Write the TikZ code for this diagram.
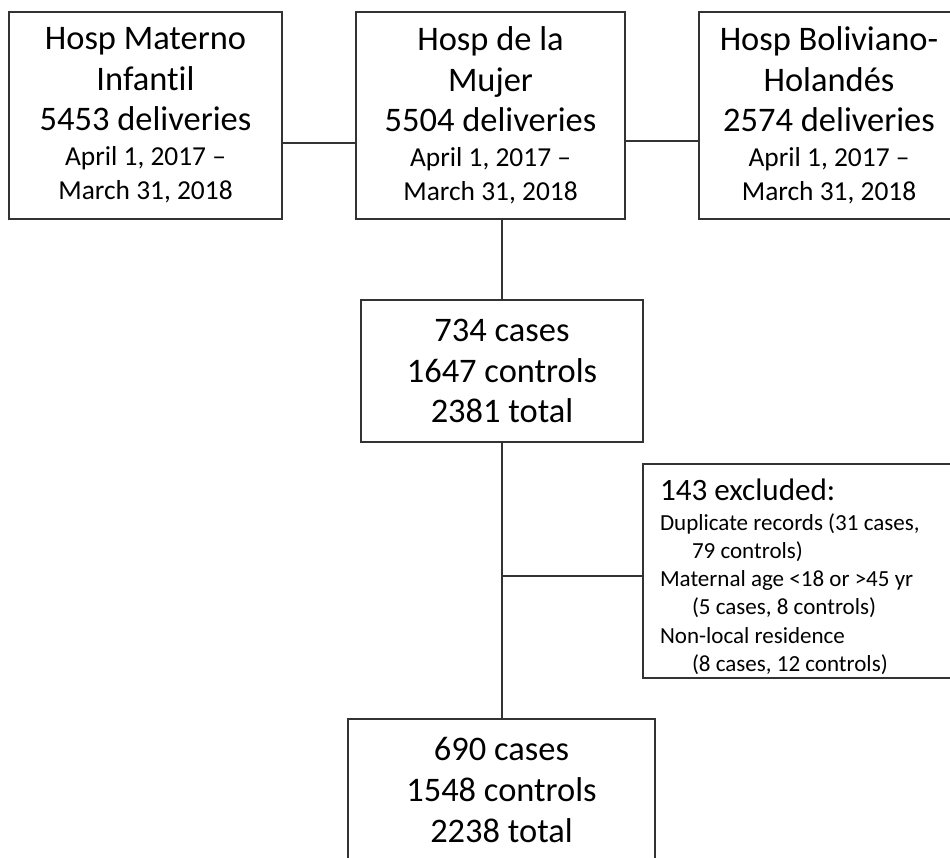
\documentclass[tikz,border=0pt]{standalone}
\usepackage{fontspec}
\setmainfont{Carlito}[Ligatures=NoCommon]
\usepackage{xcolor}
\usepackage{tikz}
\usetikzlibrary{positioning}
\newcommand{\bigtxt}[1]{{\fontsize{19.6}{23}\selectfont #1}}

\begin{document}
\begin{tikzpicture}
    % Styles
    \tikzstyle{hospital} = [rectangle, draw=black!80, line width=0.8pt, minimum width=5.4cm, minimum height=4.14cm, align=center, text centered, font=\fontsize{15.6}{19.4}\selectfont]
    \tikzstyle{count} = [rectangle, draw=black!80, line width=0.8pt, minimum height=2.84cm, align=center, text centered, font=\fontsize{19.6}{23.2}\selectfont]
    \tikzstyle{excl} = [rectangle, draw=black!80, line width=0.8pt, inner xsep=0.34cm, inner ysep=0pt, text width=5.92cm, minimum height=4.28cm, align=flush left, font=\fontsize{13.1}{16.05}\selectfont]
    \tikzstyle{line} = [line width=0.8pt, black!80]

    % Canvas
    \useasboundingbox (0,0) rectangle (19,-17.14);
    \clip (0,0) rectangle (19,-17.14);

    % Nodes - using absolute positioning
    \node[hospital, minimum width=5.46cm] (materno) at (2.91,-2.31) {\bigtxt{Hosp Materno}\\[3.6pt]\bigtxt{Infantil}\\[3.6pt]\bigtxt{5453 deliveries}\\[0.4pt]April 1, 2017 --\\March 31, 2018};
    \node[hospital, minimum width=5.38cm] (mujer) at (9.81,-2.31) {\bigtxt{Hosp de la}\\[3.6pt]\bigtxt{Mujer}\\[3.6pt]\bigtxt{5504 deliveries}\\[0.4pt]April 1, 2017 --\\March 31, 2018};
    \node[hospital, minimum width=5.2cm] (holandes) at (16.58,-2.31) {\bigtxt{Hosp Boliviano-}\\[3.6pt]\bigtxt{Holandés}\\[3.6pt]\bigtxt{2574 deliveries}\\[0.4pt]April 1, 2017 --\\March 31, 2018};
    \node[count, minimum width=5.64cm] (enrolled) at (10.04,-7.42) {734 cases\\1647 controls\\2381 total};
    \node[excl] (excluded) at (16.16,-11.42) {\rule{0pt}{20.4pt}{\fontsize{17.7}{20}\selectfont 143 excluded:}\\[0.95pt]Duplicate records (31 cases,\\\hspace*{0.64cm}79 controls)\\Maternal age <18 or >45 yr\\\hspace*{0.64cm}(5 cases, 8 controls)\\Non-local residence\\\hspace*{0.64cm}(8 cases, 12 controls)\rule[-3.4pt]{0pt}{1pt}};
    \node[count, minimum width=6.14cm] (final) at (10.03,-15.8) {690 cases\\1548 controls\\2238 total};

    % Connectors
    \draw[line] ([yshift=-0.55cm]materno.east) -- ([yshift=-0.55cm]mujer.west);
    \draw[line] ([yshift=-0.51cm]mujer.east) -- ([yshift=-0.51cm]holandes.west);
    \draw[line] (mujer.south -| enrolled.north) -- (enrolled.north);
    \draw[line] (enrolled.south) -- (enrolled.south |- final.north);
    \draw[line] ([yshift=-0.1cm]excluded.west) -- ([yshift=-0.1cm]excluded.west -| enrolled.south);
\end{tikzpicture}
\end{document}
